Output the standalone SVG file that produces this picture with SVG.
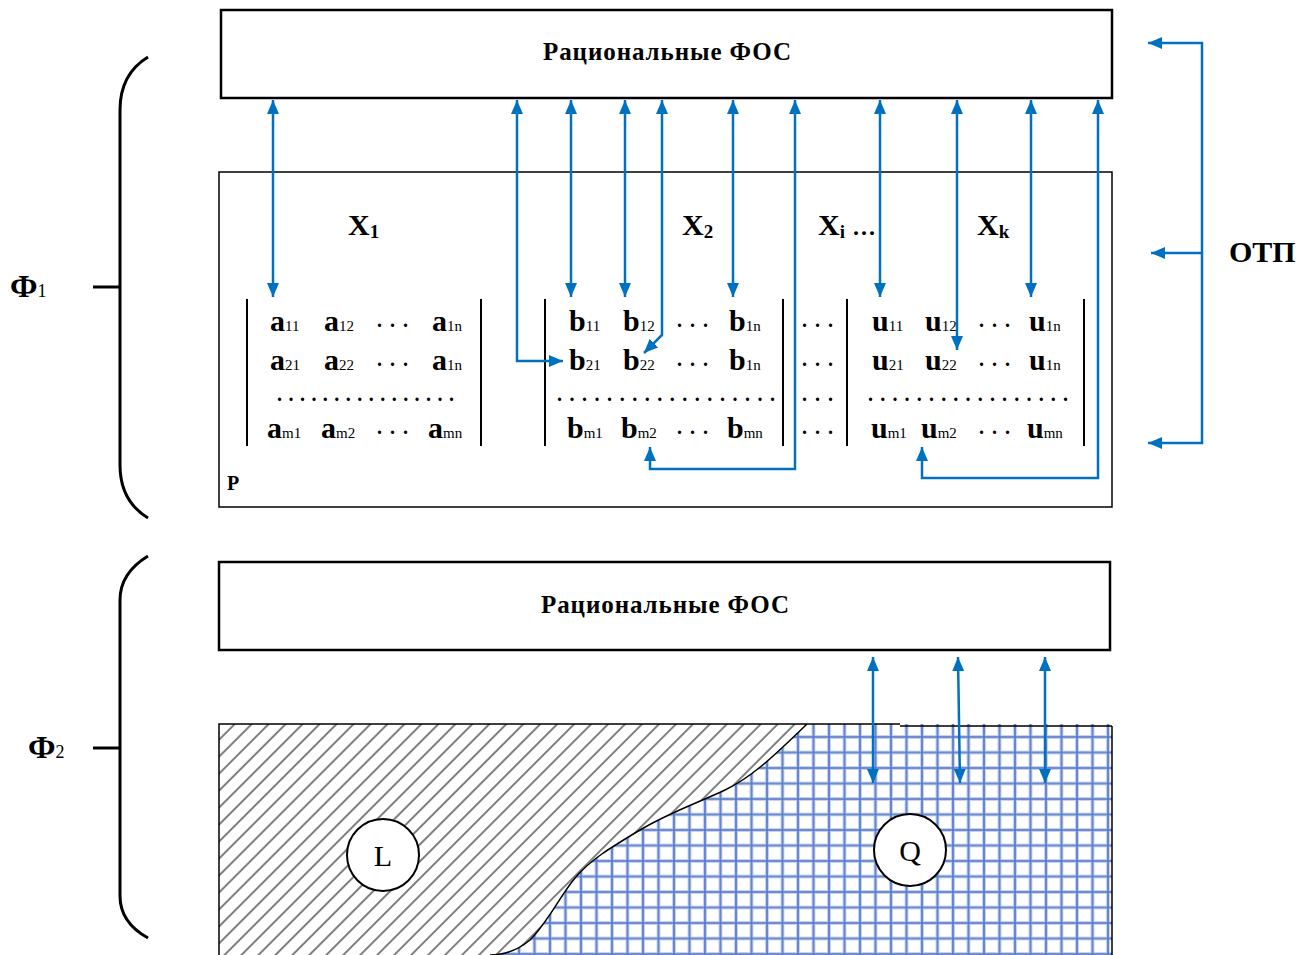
<svg xmlns="http://www.w3.org/2000/svg" width="1316" height="955" viewBox="0 0 1316 955">
<defs>
<style>
.box{fill:#fff;stroke:#000;stroke-width:2.5}
.t{font-family:"Liberation Serif","Times New Roman",serif;font-weight:bold;fill:#000}
.m{font-size:30px}
.s{font-size:15px;font-weight:normal}
.d{font-family:"Liberation Serif","Times New Roman",serif;font-weight:bold;font-size:20px;letter-spacing:8px;fill:#000}
.dr{font-family:"Liberation Serif","Times New Roman",serif;font-weight:bold;font-size:20px;fill:#000}
.c{fill:none;stroke:#0070C0;stroke-width:2.5}
.bar{stroke:#000;stroke-width:2}
.br{fill:none;stroke:#000;stroke-width:3}
</style>
<marker id="ah" markerUnits="userSpaceOnUse" markerWidth="16" markerHeight="14" refX="14" refY="6" orient="auto-start-reverse"><path d="M0,0 L14,6 L0,12 z" fill="#0070C0"/></marker>
<pattern id="hatch" patternUnits="userSpaceOnUse" width="12" height="12" patternTransform="rotate(45)"><line x1="6" y1="0" x2="6" y2="12" stroke="#000" stroke-width="1"/></pattern>
<pattern id="grid" patternUnits="userSpaceOnUse" x="821.25" y="729.25" width="15.5" height="15.5"><rect width="15.5" height="15.5" fill="#fff"/><path d="M7.75,0 V15.5 M0,7.75 H15.5" stroke="#c3d0ee" stroke-width="4"/><path d="M7.75,0 V15.5 M0,7.75 H15.5" stroke="#5277c8" stroke-width="1.6"/></pattern>
</defs>

<g id="brace1"><path class="br" d="M148,57 C130,68 120,85 120,110 V465 C120,490 130,507 148,518"/><path class="br" d="M93,287 H120"/><text class="t" x="10" y="297" font-size="32">Ф<tspan font-size="18" font-weight="normal">1</tspan></text></g>
<g id="brace2"><path class="br" d="M148,556 C130,567 120,582 120,600 V896 C120,915 130,928 148,938"/><path class="br" d="M93,748 H120"/><text class="t" x="28" y="758" font-size="32">Ф<tspan font-size="18" font-weight="normal">2</tspan></text></g>

<g id="fos1"><rect class="box" x="221" y="10" width="891" height="88"/><text class="t" x="543" y="60" font-size="25" textLength="248" lengthAdjust="spacing">Рациональные ФОС</text></g>

<g id="p-box"><rect x="219" y="172" width="893" height="335" fill="#fff" stroke="#000" stroke-width="1.5"/><text class="t" x="227" y="490" font-size="20">P</text>
<text class="t" x="348" y="235" font-size="30">X<tspan font-size="19" dy="3">1</tspan></text>
<text class="t" x="682" y="235" font-size="30">X<tspan font-size="19" dy="3">2</tspan></text>
<text class="t" x="818" y="235" font-size="30">X<tspan font-size="19" dy="3">i</tspan><tspan font-size="24" dy="-3" letter-spacing="2"> ...</tspan></text>
<text class="t" x="977" y="235" font-size="30">X<tspan font-size="19" dy="3">k</tspan></text>
</g>

<g id="matrix-a">
<line class="bar" x1="247" y1="299" x2="247" y2="446"/><line class="bar" x1="481" y1="299" x2="481" y2="446" stroke-width="2.5"/>
<text class="t m" x="270" y="331">a<tspan class="s">11</tspan></text><text class="t m" x="324" y="331">a<tspan class="s">12</tspan></text><text class="d" x="377" y="327">...</text><text class="t m" x="432" y="331">a<tspan class="s">1n</tspan></text>
<text class="t m" x="270" y="370">a<tspan class="s">21</tspan></text><text class="t m" x="324" y="370">a<tspan class="s">22</tspan></text><text class="d" x="377" y="366">...</text><text class="t m" x="432" y="370">a<tspan class="s">1n</tspan></text>
<text class="dr" x="277" y="401" textLength="177" lengthAdjust="spacing">................</text>
<text class="t m" x="267" y="438">a<tspan class="s">m1</tspan></text><text class="t m" x="321" y="438">a<tspan class="s">m2</tspan></text><text class="d" x="377" y="434">...</text><text class="t m" x="428" y="438">a<tspan class="s">mn</tspan></text>
</g>

<g id="matrix-b">
<line class="bar" x1="545" y1="299" x2="545" y2="446"/><line class="bar" x1="783" y1="299" x2="783" y2="446" stroke-width="3.5"/>
<text class="t m" x="569" y="331">b<tspan class="s">11</tspan></text><text class="t m" x="623" y="331">b<tspan class="s">12</tspan></text><text class="d" x="677" y="327">...</text><text class="t m" x="729" y="331">b<tspan class="s">1n</tspan></text>
<text class="t m" x="569" y="370">b<tspan class="s">21</tspan></text><text class="t m" x="623" y="370">b<tspan class="s">22</tspan></text><text class="d" x="677" y="366">...</text><text class="t m" x="729" y="370">b<tspan class="s">1n</tspan></text>
<text class="dr" x="557" y="401" textLength="218" lengthAdjust="spacing">..................</text>
<text class="t m" x="567" y="438">b<tspan class="s">m1</tspan></text><text class="t m" x="621" y="438">b<tspan class="s">m2</tspan></text><text class="d" x="677" y="434">...</text><text class="t m" x="727" y="438">b<tspan class="s">mn</tspan></text>
</g>

<g id="between-dots">
<text class="d" x="802" y="327">...</text><text class="d" x="802" y="366">...</text><text class="d" x="802" y="401">...</text><text class="d" x="802" y="434">...</text>
</g>

<g id="matrix-u">
<line class="bar" x1="847" y1="299" x2="847" y2="446" stroke-width="3"/><line class="bar" x1="1084" y1="299" x2="1084" y2="446" stroke-width="2.5"/>
<text class="t m" x="872" y="331">u<tspan class="s">11</tspan></text><text class="t m" x="925" y="331">u<tspan class="s">12</tspan></text><text class="d" x="979" y="327">...</text><text class="t m" x="1029" y="331">u<tspan class="s">1n</tspan></text>
<text class="t m" x="872" y="370">u<tspan class="s">21</tspan></text><text class="t m" x="925" y="370">u<tspan class="s">22</tspan></text><text class="d" x="979" y="366">...</text><text class="t m" x="1029" y="370">u<tspan class="s">1n</tspan></text>
<text class="dr" x="868" y="401" textLength="200" lengthAdjust="spacing">.................</text>
<text class="t m" x="871" y="438">u<tspan class="s">m1</tspan></text><text class="t m" x="921" y="438">u<tspan class="s">m2</tspan></text><text class="d" x="979" y="434">...</text><text class="t m" x="1027" y="438">u<tspan class="s">mn</tspan></text>
</g>

<g id="fos2"><rect class="box" x="219" y="562" width="891" height="88"/><text class="t" x="541" y="613" font-size="25" textLength="248" lengthAdjust="spacing">Рациональные ФОС</text></g>

<g id="region">
<rect x="219" y="724" width="893" height="231" fill="url(#grid)"/>
<path d="M1112,726 V955 M900,726 H1112" fill="none" stroke="#000" stroke-width="1.5"/>
<path d="M219,724 H807 C770,760 750,778 725,790 C700,802 670,812 640,830 C610,848 590,860 575,878 C560,896 548,922 530,940 C518,950 505,955 490,955 H219 Z" fill="#fff"/>
<path d="M219,724 H807 C770,760 750,778 725,790 C700,802 670,812 640,830 C610,848 590,860 575,878 C560,896 548,922 530,940 C518,950 505,955 490,955 H219 Z" fill="url(#hatch)"/>
<path d="M219,955 V724 H900 M807,724 C770,760 750,778 725,790 C700,802 670,812 640,830 C610,848 590,860 575,878 C560,896 548,922 530,940 C518,950 505,955 490,955" fill="none" stroke="#000" stroke-width="1.5"/>
</g>
<g id="node-L"><circle cx="383" cy="855" r="36" fill="#fff" stroke="#000" stroke-width="2"/><text x="383" y="866" text-anchor="middle" font-family="Liberation Serif, serif" font-size="30">L</text></g>
<g id="node-Q"><circle cx="910" cy="850" r="36" fill="#fff" stroke="#000" stroke-width="2"/><text x="910" y="861" text-anchor="middle" font-family="Liberation Serif, serif" font-size="30">Q</text></g>

<g id="otp"><text class="t" x="1229" y="262" font-size="30">ОТП</text></g>

<g id="connectors" class="c">
<path class="c" d="M273,100 V297" marker-start="url(#ah)" marker-end="url(#ah)"/>
<path class="c" d="M517,100 V361 H563" marker-start="url(#ah)" marker-end="url(#ah)"/>
<path class="c" d="M571,100 V297" marker-start="url(#ah)" marker-end="url(#ah)"/>
<path class="c" d="M625,100 V297" marker-start="url(#ah)" marker-end="url(#ah)"/>
<path class="c" d="M662,100 V335 L644,353" marker-start="url(#ah)" marker-end="url(#ah)"/>
<path class="c" d="M733,100 V297" marker-start="url(#ah)" marker-end="url(#ah)"/>
<path class="c" d="M795,100 V469 H650 V447" marker-start="url(#ah)" marker-end="url(#ah)"/>
<path class="c" d="M880,100 V297" marker-start="url(#ah)" marker-end="url(#ah)"/>
<path class="c" d="M957,100 V350" marker-start="url(#ah)" marker-end="url(#ah)"/>
<path class="c" d="M1031,100 V297" marker-start="url(#ah)" marker-end="url(#ah)"/>
<path class="c" d="M1098,100 V478 H922 V447" marker-start="url(#ah)" marker-end="url(#ah)"/>
<path class="c" d="M1148,43 H1202 V443 H1148" marker-start="url(#ah)" marker-end="url(#ah)"/>
<path class="c" d="M1202,253 H1151" marker-end="url(#ah)"/>
<path class="c" d="M873,657 V783" marker-start="url(#ah)" marker-end="url(#ah)"/>
<path class="c" d="M958,657 L960,783" marker-start="url(#ah)" marker-end="url(#ah)"/>
<path class="c" d="M1045,657 V783" marker-start="url(#ah)" marker-end="url(#ah)"/>
</g>
</svg>
